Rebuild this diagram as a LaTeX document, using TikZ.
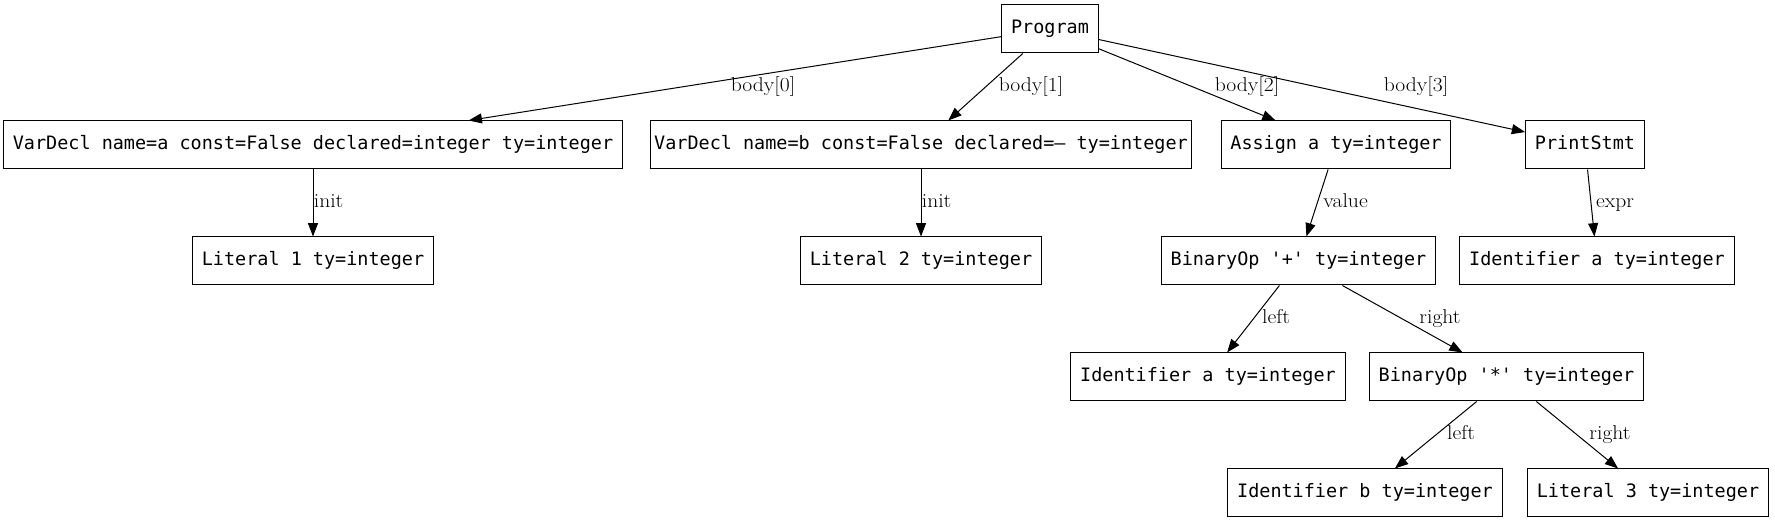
\documentclass[tikz,border=0pt]{standalone}
\usepackage{fontspec}
\newfontfamily\monofnt{DejaVu Sans Mono}
\usetikzlibrary{arrows.meta}
\newcommand\lbltext[1]{\scalebox{1.08}[1]{#1}}
\begin{document}
\begin{tikzpicture}[x=0.75pt,y=-0.75pt,
  ast/.style={draw=black, line width=0.75pt, rectangle, minimum height=36pt,
    inner xsep=7pt, inner ysep=0pt, font=\monofnt\fontsize{13.85}{16}\selectfont,
    text height=10pt, text depth=3pt},
  edge/.style={draw=black, line width=0.75pt, -{Triangle[length=10pt,width=7.5pt]}},
  elabel/.style={anchor=base, inner sep=0pt, font=\fontsize{15}{17}\selectfont}]
\useasboundingbox (0,0) rectangle (1775,523);
% nodes
\node[ast] (prog) at (1050,29) {Program};
\node[ast] (vda)  at (313,145) {VarDecl name=a const=False declared=integer ty=integer};
\node[ast,inner xsep=3pt] (vdb)  at (921,145) {VarDecl name=b const=False declared=– ty=integer};
\node[ast] (asg)  at (1336,145) {Assign a ty=integer};
\node[ast] (prt)  at (1585,145) {PrintStmt};
\node[ast] (lit1) at (313,261) {Literal 1 ty=integer};
\node[ast] (lit2) at (921,261) {Literal 2 ty=integer};
\node[ast] (binp) at (1298.5,261) {BinaryOp '+' ty=integer};
\node[ast] (ida1) at (1597,261) {Identifier a ty=integer};
\node[ast] (ida2) at (1208,377) {Identifier a ty=integer};
\node[ast] (binm) at (1506.5,377) {BinaryOp '*' ty=integer};
\node[ast] (idb)  at (1365,493) {Identifier b ty=integer};
\node[ast] (lit3) at (1648,493) {Literal 3 ty=integer};
% edges
\draw[edge] (prog) -- (vda);
\draw[edge] (prog) -- (vdb);
\draw[edge] (prog) -- (asg);
\draw[edge] (prog) -- (prt);
\draw[edge] (vda) -- (lit1);
\draw[edge] (vdb) -- (lit2);
\draw[edge] (asg) -- (binp);
\draw[edge] (prt) -- (ida1);
\draw[edge] (binp) -- (ida2);
\draw[edge] (binp) -- (binm);
\draw[edge] (binm) -- (idb);
\draw[edge] (binm) -- (lit3);
% edge labels
\node[elabel] (l0) at (763,92) {\lbltext{body[0]}};
\node[elabel] (l1) at (1031,92) {\lbltext{body[1]}};
\node[elabel] (l2) at (1247,92) {\lbltext{body[2]}};
\node[elabel] (l3) at (1416,92) {\lbltext{body[3]}};
\node[elabel] (l4) at (328.6,208) {\lbltext{init}};
\node[elabel] (l5) at (936.6,208) {\lbltext{init}};
\node[elabel] (l6) at (1345.5,208) {\lbltext{value}};
\node[elabel] (l7) at (1615,208) {\lbltext{expr}};
\node[elabel] (l8) at (1276,324) {\lbltext{left}};
\node[elabel] (l9) at (1440,324) {\lbltext{right}};
\node[elabel] (l10) at (1461,440) {\lbltext{left}};
\node[elabel] (l11) at (1610,440) {\lbltext{right}};
\end{tikzpicture}
\end{document}
